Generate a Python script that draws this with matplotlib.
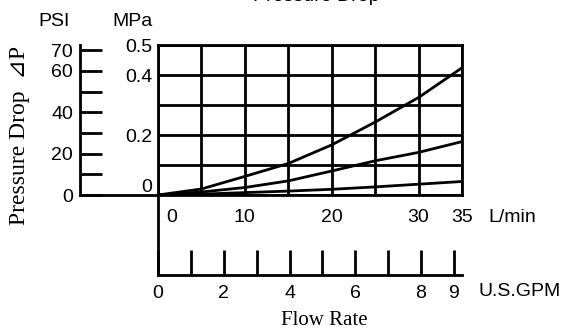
import matplotlib
matplotlib.use("Agg")
import matplotlib.pyplot as plt
from matplotlib.transforms import ScaledTranslation

plt.rcParams['font.family'] = ['Liberation Sans', 'DejaVu Sans']

# readings (pressure drop in MPa vs flow in L/min)
flow_lpm = [0, 5, 10, 15, 20, 25, 30, 35]
drop_high = [0, 0.020, 0.062, 0.105, 0.167, 0.243, 0.325, 0.424]
drop_mid = [0, 0.010, 0.025, 0.047, 0.080, 0.114, 0.142, 0.178]
drop_low = [0, 0.003, 0.008, 0.013, 0.019, 0.027, 0.036, 0.045]

mpa_ticks = [0, 0.1, 0.2, 0.3, 0.4, 0.5]
mpa_labels = ['0', '', '0.2', '', '0.4', '0.5']
lpm_ticks = [0, 5, 10, 15, 20, 25, 30, 35]
lpm_labels = ['0', '', '10', '', '20', '', '30', '35']
psi_ticks = [0, 10, 20, 30, 40, 50, 60, 70]
psi_labels = ['0', '', '20', '', '40', '', '60', '70']
gpm_ticks = [0, 1, 2, 3, 4, 5, 6, 7, 8, 9]
gpm_labels = ['0', '', '2', '', '4', '', '6', '', '8', '9']

PSI_PER_MPA = 145.038
LPM_PER_GPM = 3.78541

W, H = 564, 329
LW = 2.0
FS = 14


def rect(x0, y0, x1, y1):
    # pixel box -> figure fraction
    return [x0 / W, 1 - y1 / H, (x1 - x0) / W, (y1 - y0) / H]


def px(dx, dy):
    return ScaledTranslation(dx / 100, dy / 100, fig.dpi_scale_trans)


fig = plt.figure(figsize=(W / 100, H / 100), dpi=100)

# main grid, MPa vs L/min
ax = fig.add_axes(rect(158, 45, 462, 195))
ax.set_xlim(0, 35)
ax.set_ylim(0, 0.5)
for s in ax.spines.values():
    s.set_linewidth(LW)
ax.set_xticks(lpm_ticks, lpm_labels)
ax.set_yticks(mpa_ticks, mpa_labels)
ax.grid(True, color='black', linewidth=LW)
ax.tick_params(axis='both', length=0, labelsize=FS)
ax.tick_params(axis='x', pad=10)
ax.tick_params(axis='y', pad=4)
for y in (drop_high, drop_mid, drop_low):
    ax.plot(flow_lpm, y, color='black', linewidth=LW, solid_capstyle='round')
t0 = ax.xaxis.get_major_ticks()[0].label1
t0.set_transform(t0.get_transform() + px(14, 0))
t0 = ax.yaxis.get_major_ticks()[0].label1
t0.set_transform(t0.get_transform() + px(0, 9))

# PSI scale on the left
ax_psi = fig.add_axes(rect(80, 45, 158, 195))
ax_psi.set_xlim(0, 1)
ax_psi.set_ylim(0, 0.5 * PSI_PER_MPA)
ax_psi.patch.set_visible(False)
for k in ('top', 'right'):
    ax_psi.spines[k].set_visible(False)
for k in ('left', 'bottom'):
    ax_psi.spines[k].set_linewidth(LW)
ax_psi.set_xticks([])
ax_psi.set_yticks(psi_ticks, psi_labels)
ax_psi.tick_params(axis='y', direction='in', length=16, width=LW,
                   pad=5, labelsize=FS)

# US GPM scale below
ax_gpm = fig.add_axes(rect(158, 195, 462, 275))
ax_gpm.set_xlim(0, 35 / LPM_PER_GPM)
ax_gpm.set_ylim(0, 1)
ax_gpm.patch.set_visible(False)
for k in ('top', 'right'):
    ax_gpm.spines[k].set_visible(False)
for k in ('left', 'bottom'):
    ax_gpm.spines[k].set_linewidth(LW)
ax_gpm.set_yticks([])
ax_gpm.set_xticks(gpm_ticks, gpm_labels)
ax_gpm.tick_params(axis='x', direction='in', length=18, width=LW,
                   pad=7, labelsize=FS)

# unit labels and titles
fig.text(54 / W, 1 - 21 / H, 'PSI', ha='center', va='center', fontsize=FS)
fig.text(133 / W, 1 - 21 / H, 'MPa', ha='center', va='center', fontsize=FS)
fig.text(512 / W, 1 - 217 / H, 'L/min', ha='center', va='center', fontsize=FS)
fig.text(520 / W, 1 - 292 / H, 'U.S.GPM', ha='center', va='center', fontsize=FS)
fig.text(316 / W, 1 - 1 / H, 'Pressure Drop', ha='center', va='baseline',
         fontsize=FS)
fig.text(324 / W, 1 - 325 / H, 'Flow Rate', ha='center', va='baseline',
         fontsize=15, family=['Liberation Serif', 'DejaVu Serif'])
fig.text(20 / W, 1 - 135 / H, 'Pressure Drop  \u22bfP', rotation=90,
         ha='center', va='center', fontsize=17,
         family=['Liberation Serif', 'DejaVu Sans'])

fig.savefig('out.png', dpi=100)
